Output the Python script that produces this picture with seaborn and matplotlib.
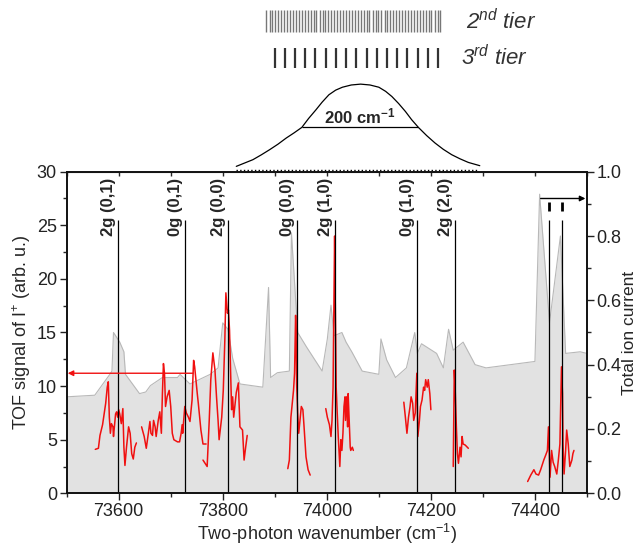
import pandas as pd
import seaborn as sns
import matplotlib.pyplot as plt
from matplotlib.ticker import MultipleLocator

# ---- data ----
# total ion current (right axis), grey background trace
tic_wn = [73500, 73554, 73583, 73587, 73590, 73602, 73610, 73613, 73640, 73652,
          73661, 73684, 73713, 73718, 73737, 73776, 73791, 73800, 73810, 73819,
          73833, 73877, 73888, 73892, 73905, 73928, 73932, 73944, 73961, 73991,
          74001, 74008, 74014, 74029, 74037, 74048, 74068, 74100, 74104, 74115,
          74132, 74153, 74169, 74174, 74182, 74211, 74224, 74234, 74243, 74262,
          74285, 74306, 74400, 74409, 74428, 74449, 74459, 74487, 74500]
tic_val = [0.30, 0.305, 0.37, 0.38, 0.50, 0.47, 0.44, 0.37, 0.31, 0.315,
           0.335, 0.36, 0.36, 0.37, 0.34, 0.37, 0.39, 0.53, 0.51, 0.42,
           0.34, 0.33, 0.64, 0.36, 0.375, 0.38, 0.81, 0.50, 0.455, 0.38,
           0.48, 0.585, 0.49, 0.50, 0.47, 0.44, 0.38, 0.37, 0.48, 0.415,
           0.36, 0.39, 0.50, 0.435, 0.465, 0.435, 0.39, 0.51, 0.445, 0.47,
           0.40, 0.39, 0.41, 0.93, 0.53, 0.80, 0.435, 0.44, 0.435]

# TOF signal of I+ (left axis), measured in separate scan pieces
seg1_wn = [73555, 73561, 73564, 73569, 73575, 73578, 73580, 73582, 73584, 73586,
           73589, 73590, 73594, 73596, 73598, 73600, 73602, 73605, 73608, 73610,
           73612, 73615, 73619, 73622, 73625, 73628, 73631, 73634]
seg1_tof = [4.1, 4.2, 5.4, 6.4, 8.4, 9.9, 10.4, 7.1, 5.6, 6.5,
            6.2, 5.3, 7.4, 7.6, 7.1, 7.8, 7.4, 6.5, 7.9, 4.3,
            2.6, 4.3, 6.2, 5.6, 3.7, 3.2, 4.3, 4.7]
seg2_wn = [73644, 73649, 73653, 73657, 73660, 73662, 73665, 73667, 73670, 73672,
           73676, 73679, 73682, 73684, 73686, 73688, 73690, 73693, 73697, 73700,
           73703, 73706, 73713, 73717, 73720, 73722, 73723, 73727, 73730, 73734,
           73737, 73741, 73744, 73746, 73749, 73751, 73753, 73758, 73762, 73768]
seg2_tof = [6.2, 5.3, 4.2, 5.6, 6.7, 5.6, 5.4, 6.8, 6.2, 5.3,
            6.8, 7.6, 5.6, 9.3, 12.1, 11.2, 8.1, 9.0, 9.6, 8.1,
            5.6, 5.0, 4.8, 4.8, 5.6, 6.4, 5.6, 8.1, 7.5, 7.1,
            6.7, 8.7, 12.4, 11.8, 10.3, 9.3, 8.4, 5.9, 4.6, 4.6]
seg3_wn = [73762, 73770, 73774, 73777, 73781, 73785, 73788, 73791, 73793, 73798,
           73801, 73804, 73806, 73809, 73811, 73813, 73815, 73817, 73819, 73821,
           73826, 73830, 73833, 73838, 73841, 73844, 73847]
seg3_tof = [3.1, 2.5, 6.8, 10.6, 13.1, 11.5, 9.0, 6.8, 5.0, 7.1,
            9.6, 14.3, 18.7, 16.8, 17.1, 15.2, 11.5, 7.8, 9.0, 7.1,
            9.4, 10.3, 6.2, 5.9, 3.1, 4.3, 5.4]
seg4_wn = [73925, 73928, 73931, 73936, 73938, 73940, 73941, 73942, 73944, 73946,
           73949, 73951, 73954, 73956, 73960, 73964, 73968]
seg4_tof = [2.3, 3.1, 7.1, 9.6, 11.2, 16.6, 15.2, 10.2, 7.5, 5.6,
            7.1, 8.1, 7.8, 6.4, 3.4, 2.2, 1.7]
seg5_wn = [73998, 74001, 74005, 74008, 74010, 74012, 74013, 74015, 74016, 74017,
           74018, 74020, 74022, 74025, 74027, 74029, 74031, 74033, 74035, 74036,
           74038, 74040, 74041, 74043, 74045, 74046, 74049, 74051]
seg5_tof = [7.9, 7.1, 6.4, 5.3, 6.8, 9.9, 14.6, 24.0, 18.7, 14.6,
            9.9, 7.5, 5.3, 2.5, 5.0, 4.0, 5.6, 8.1, 9.0, 6.8,
            9.0, 6.2, 9.3, 6.8, 4.3, 4.0, 4.3, 4.0]
seg6_wn = [74148, 74151, 74154, 74157, 74160, 74162, 74165, 74167, 74170, 74173,
           74175, 74178, 74180, 74183, 74186, 74188, 74190, 74193, 74195, 74198, 74200]
seg6_tof = [8.5, 7.1, 5.6, 7.1, 8.1, 9.0, 8.4, 6.8, 7.5, 11.2,
            5.3, 6.8, 8.1, 8.7, 9.9, 9.6, 10.6, 9.9, 10.6, 9.3, 7.8]
seg7_wn = [74243, 74245, 74247, 74249, 74251, 74253, 74256, 74258, 74260, 74262,
           74266, 74272]
seg7_tof = [2.5, 11.5, 9.3, 6.2, 3.7, 2.8, 4.3, 3.4, 5.3, 4.6, 4.5, 4.2]
seg8_wn = [74386, 74392, 74398, 74402, 74407, 74411, 74417, 74421, 74424, 74426,
           74429, 74431, 74432, 74435, 74438, 74442, 74445, 74448, 74451, 74453,
           74454, 74456, 74459, 74461, 74464, 74467, 74471, 74473, 74475]
seg8_tof = [1.1, 1.7, 2.2, 1.8, 1.7, 2.2, 3.1, 3.6, 4.0, 6.2,
            1.5, 3.1, 4.0, 2.9, 2.5, 1.8, 3.1, 4.6, 11.8, 9.3,
            4.6, 1.8, 4.0, 5.9, 4.6, 2.5, 3.1, 3.7, 4.0]

# assigned transitions
line_pos = [73599, 73728, 73810, 73942, 74016, 74174, 74246]
line_lbl = ['2g (0,1)', '0g (0,1)', '2g (0,0)', '0g (0,0)', '2g (1,0)', '0g (1,0)', '2g (2,0)']
mark_pos = [74427, 74452]

# laser bandwidth profile and rotational combs (upper panel)
gauss_wn = [73826, 73858, 73874, 73890, 73906, 73922, 73937, 73952, 73965, 73979,
            73991, 74004, 74017, 74030, 74047, 74065, 74083, 74100, 74113, 74125,
            74138, 74151, 74163, 74176, 74192, 74208, 74224, 74240, 74256, 74272, 74294]
gauss_h = [0.031, 0.070, 0.098, 0.128, 0.160, 0.196, 0.226, 0.258, 0.310, 0.360,
           0.405, 0.448, 0.475, 0.492, 0.505, 0.510, 0.505, 0.492, 0.468, 0.438,
           0.397, 0.351, 0.303, 0.258, 0.210, 0.167, 0.130, 0.099, 0.075, 0.054, 0.035]
tier2_pos = [73884, 73890, 73895, 73901, 73907, 73912, 73918, 73924, 73929, 73935,
             73941, 73946, 73952, 73958, 73963, 73969, 73975, 73980, 73986, 73992,
             73997, 74003, 74009, 74014, 74020, 74026, 74031, 74037, 74043, 74048,
             74054, 74060, 74065, 74071, 74077, 74082, 74088, 74094, 74099, 74105,
             74111, 74116, 74122, 74128, 74133, 74139, 74145, 74150, 74156, 74162,
             74167, 74173, 74179, 74184, 74190, 74196, 74201, 74207, 74213, 74218]
tier3_pos = [73900, 73920, 73939, 73959, 73978, 73998, 74018, 74037, 74057, 74077,
             74096, 74116, 74135, 74155, 74175, 74194, 74214]

segs = [(seg1_wn, seg1_tof), (seg2_wn, seg2_tof), (seg3_wn, seg3_tof), (seg4_wn, seg4_tof),
        (seg5_wn, seg5_tof), (seg6_wn, seg6_tof), (seg7_wn, seg7_tof), (seg8_wn, seg8_tof)]
df_tof = pd.concat([pd.DataFrame({'wn': w, 'tof': t, 'seg': i}) for i, (w, t) in enumerate(segs)])

# ---- style ----
sns.set_style('ticks')
plt.rcParams['font.family'] = ['Liberation Sans', 'DejaVu Sans']
plt.rcParams['mathtext.fontset'] = 'custom'
plt.rcParams['mathtext.rm'] = 'Liberation Sans'
plt.rcParams['mathtext.it'] = 'Liberation Sans:italic'
plt.rcParams['mathtext.bf'] = 'Liberation Sans:bold'

fig = plt.figure(figsize=(6.38, 5.48), dpi=100)
ax = fig.add_axes([0.1045, 0.0998, 0.8155, 0.5869])
ax2 = ax.twinx()
ax_top = fig.add_axes([0.1045, 0.6867, 0.8155, 0.3133], sharex=ax)

# grey total ion current behind everything
ax2.fill_between(tic_wn, tic_val, color='#e2e2e2', lw=0)
sns.lineplot(x=tic_wn, y=tic_val, ax=ax2, color='#b8b8b8', lw=0.8)
ax2.set_ylim(0, 1)
ax.set_zorder(ax2.get_zorder() + 1)
ax.patch.set_visible(False)

# red TOF pieces
sns.lineplot(data=df_tof, x='wn', y='tof', units='seg', estimator=None, sort=False,
             color='#f01010', lw=1.1, ax=ax)

ax.vlines(line_pos + mark_pos, 0, 25.5, color='black', lw=0.9)
ax.vlines(mark_pos, 26.3, 27.2, color='black', lw=2)
for pos, lbl in zip(line_pos, line_lbl):
    ax.annotate(lbl, xy=(pos, 29.4), xytext=(-1.5, 0), textcoords='offset points',
                rotation=90, ha='right', va='top', fontsize=12, fontweight='bold')

ax.annotate('', xy=(74497, 27.5), xytext=(74411, 27.5),
            arrowprops=dict(arrowstyle='-|>', color='black', lw=1, mutation_scale=8,
                            shrinkA=0, shrinkB=0))
ax.annotate('', xy=(73502, 11.2), xytext=(73743, 11.2),
            arrowprops=dict(arrowstyle='-|>', color='#f01010', lw=1, mutation_scale=8,
                            shrinkA=0, shrinkB=0))

ax.set_xlim(73500, 74500)
ax.set_ylim(0, 30)
ax.xaxis.set_major_locator(MultipleLocator(200))
ax.xaxis.set_minor_locator(MultipleLocator(100))
ax.yaxis.set_major_locator(MultipleLocator(5))
ax.yaxis.set_minor_locator(MultipleLocator(2.5))
ax2.yaxis.set_major_locator(MultipleLocator(0.2))
ax2.yaxis.set_minor_locator(MultipleLocator(0.1))
for a in (ax, ax2):
    a.tick_params(which='major', direction='out', length=5, width=1, pad=2,
                  labelsize=13, colors='#222222')
    a.tick_params(which='minor', direction='out', length=3, width=1)
    for s in a.spines.values():
        s.set_linewidth(1.2)
        s.set_color('#111111')

sec = ax.secondary_xaxis('top')
sec.xaxis.set_major_locator(MultipleLocator(100))
sec.tick_params(direction='in', length=3, width=1, labeltop=False)

ax.set_xlabel('Two-photon wavenumber (cm$^{-1}$)', fontsize=13, labelpad=1)
ax.set_ylabel('TOF signal of I$^{+}$ (arb. u.)', fontsize=13, labelpad=3)
ax2.set_ylabel('Total ion current', fontsize=12.5, labelpad=0)

# ---- upper panel: tiers and laser profile ----
ax_top.axis('off')
ax_top.set_ylim(0, 1)
ax_top.vlines(tier2_pos, 0.814, 0.942, color='#777777', lw=1.0)
ax_top.vlines(tier3_pos, 0.605, 0.72, color='#333333', lw=1.6)
sns.lineplot(x=gauss_wn, y=gauss_h, ax=ax_top, color='black', lw=0.9)
ax_top.hlines(0.258, 73952, 74176, color='black', lw=0.9)
ax_top.text(74064, 0.266, r'200 cm$^{\mathbf{-1}}$', ha='center', va='bottom',
            fontsize=12, fontweight='bold')
ax_top.hlines(0.012, 73826, 74290, color='black', lw=1, linestyles=':', clip_on=False)
ax_top.text(74268, 0.872, r'2$^{\mathit{nd}}$ tier', fontstyle='italic', fontsize=16,
            va='center', color='#333333')
ax_top.text(74258, 0.663, r'3$^{\mathit{rd}}$ tier', fontstyle='italic', fontsize=16,
            va='center', color='#333333')
ax_top.set_xlim(73500, 74500)

fig.savefig('out.png', dpi=100)
